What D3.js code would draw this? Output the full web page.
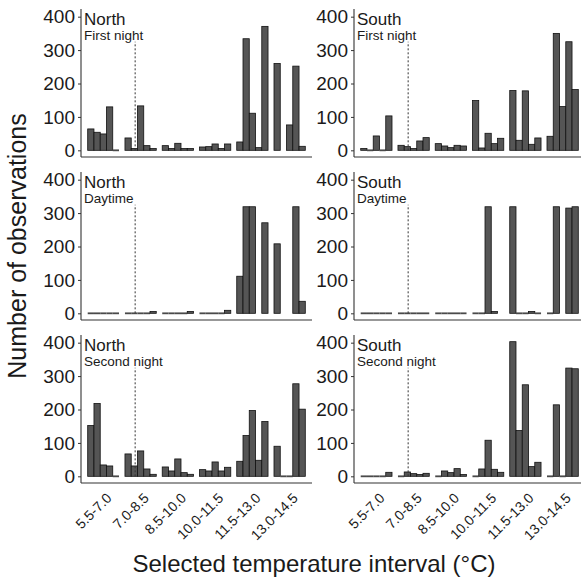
<!DOCTYPE html>
<html>
<head>
<meta charset="utf-8">
<script src="https://cdn.jsdelivr.net/npm/d3@7"></script>
<style>
  body { margin: 0; background: #fff; }
  text { font-family: "Liberation Sans", Arial, sans-serif; fill: #1a1a1a; }
</style>
</head>
<body>
<svg width="581" height="577"></svg>
<script>
// temperature intervals (x categories)
var categories = ["5.5-7.0", "7.0-8.5", "8.5-10.0", "10.0-11.5", "11.5-13.0", "13.0-14.5"];
var yTicks = [0, 100, 200, 300, 400];

// 5 bars per interval, null = no bar drawn
var northFirst = [
  [64, 54, 49, 130, 0],
  [37, 5, 133, 14, 4],
  [14, 3, 21, 2, 1],
  [10, 11, 19, 4, 19],
  [25, 334, 111, 8, 371],
  [260, null, 76, 252, 12]
];
var southFirst = [
  [4, 0, 43, 0, 103],
  [15, 11, 2, 28, 38],
  [20, 13, 8, 15, 13],
  [149, 7, 51, 20, 36],
  [179, 30, 178, 18, 37],
  [42, 350, 131, 325, 182]
];
var northDay = [
  [0, 0, 0, 0, 0],
  [0, 0, 0, 0, 2],
  [0, 0, 0, 0, 1],
  [0, 0, 0, 0, 9],
  [111, 319, 319, null, 271],
  [208, null, null, 319, 36]
];
var southDay = [
  [0, 0, 0, 0, 0],
  [0, 0, 0, 0, 0],
  [0, 0, 0, 0, 0],
  [0, 0, 319, 2, null],
  [319, 0, 0, 2, 0],
  [0, 319, null, 315, 319]
];
var northSecond = [
  [152, 218, 34, 31, 0],
  [67, 31, 76, 22, 6],
  [28, 16, 52, 11, 6],
  [20, 16, 43, 16, 27],
  [45, 122, 197, 48, 164],
  [90, 0, 0, 277, 201]
];
var southSecond = [
  [0, 0, 0, 0, 12],
  [0, 13, 8, 5, 9],
  [0, 16, 11, 23, 4],
  [0, 22, 108, 21, 12],
  [403, 137, 274, 29, 42],
  [0, 214, 0, 324, 322]
];

var regions = ["North", "South"];
var periods = ["First night", "Daytime", "Second night"];
var panelData = [
  [northFirst, southFirst],
  [northDay, southDay],
  [northSecond, southSecond]
];
// dashed reference line (temperature, height)
var refTemp = 7.53, refTop = 325;

var svg = d3.select("svg");
var colX = [81, 354], rowY = [9, 172, 335];
var pw = 231, ph = 148;

var x = d3.scaleBand().domain(categories).range([0, pw])
  .paddingInner(0.16).paddingOuter(0.18);
var xi = d3.scaleBand().domain(d3.range(5)).range([0, x.bandwidth()]);
var y = d3.scaleLinear().domain([-20, 423]).range([ph, 0]);
// temperature -> x, interval mid points at band centres
var xt = d3.scaleLinear().domain([6.25, 13.75])
  .range([x(categories[0]) + x.bandwidth() / 2, x(categories[5]) + x.bandwidth() / 2]);

// zero counts still show as a flat bar on the baseline
function barH(v) { return Math.max(y(0) - y(v), 1.8); }

periods.forEach(function(period, r) {
  regions.forEach(function(region, c) {
    var g = svg.append("g")
      .attr("transform", "translate(" + colX[c] + "," + rowY[r] + ")");
    var data = panelData[r][c];

    var groups = g.selectAll(".grp")
      .data(data)
      .enter().append("g")
      .attr("transform", function(d, i) { return "translate(" + x(categories[i]) + ",0)"; });

    groups.selectAll("rect")
      .data(function(d) { return d.map(function(v, j) { return {v: v, j: j}; }).filter(function(o) { return o.v !== null; }); })
      .enter().append("rect")
      .attr("x", function(d) { return xi(d.j); })
      .attr("width", xi.bandwidth())
      .attr("y", function(d) { return y(0) - barH(d.v) + (d.v > 0 ? 0 : 0.9); })
      .attr("height", function(d) { return barH(d.v); })
      .attr("fill", function(d) { return d.v > 0 ? "#555555" : "#4a4a4a"; })
      .attr("stroke", function(d) { return d.v > 0 ? "#111" : "none"; })
      .attr("stroke-width", 0.8);

    g.append("line")
      .attr("x1", xt(refTemp)).attr("x2", xt(refTemp))
      .attr("y1", y(0)).attr("y2", y(refTop))
      .attr("stroke", "#333").attr("stroke-width", 1)
      .attr("stroke-dasharray", "2,2");

    // y axis
    var ya = g.append("g")
      .call(d3.axisLeft(y).tickValues(yTicks).tickSize(3).tickPadding(3));
    ya.select(".domain").remove();
    ya.selectAll("line").attr("stroke", "#333");
    ya.selectAll("text").style("font-size", "19px").style("font-family", "'Liberation Sans', Arial, sans-serif").attr("fill", "#1a1a1a");
    g.append("line").attr("x1", 0).attr("x2", 0).attr("y1", 0).attr("y2", ph)
      .attr("stroke", "#333").attr("stroke-width", 1.1);
    g.append("line").attr("x1", 0).attr("x2", pw).attr("y1", ph).attr("y2", ph)
      .attr("stroke", "#333").attr("stroke-width", 1.1);

    if (r == 2) {
      g.selectAll(".xl")
        .data(categories)
        .enter().append("text")
        .attr("transform", function(d) {
          return "translate(" + (x(d) + x.bandwidth() / 2 + 2) + "," + (ph + 9) + ") rotate(-45)";
        })
        .attr("text-anchor", "end")
        .attr("dy", "0.71em")
        .style("font-size", "14px")
        .text(function(d) { return d; });
    }

    g.append("text")
      .attr("x", 3).attr("y", 16)
      .style("font-size", "17px")
      .text(region);
    g.append("text")
      .attr("x", 3).attr("y", 30.5)
      .style("font-size", "13.5px")
      .text(period);
  });
});

svg.append("text")
  .attr("transform", "translate(26,246) rotate(-90)")
  .attr("text-anchor", "middle")
  .style("font-size", "25px")
  .text("Number of observations");

svg.append("text")
  .attr("x", 314).attr("y", 572)
  .attr("text-anchor", "middle")
  .style("font-size", "24px")
  .text("Selected temperature interval (\u00B0C)");
</script>
</body>
</html>
